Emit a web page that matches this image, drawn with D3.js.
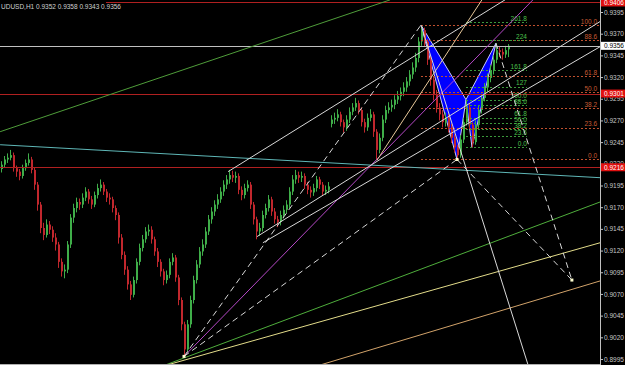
<!DOCTYPE html>
<html>
<head>
<meta charset="utf-8">
<script src="https://cdn.jsdelivr.net/npm/d3@7"></script>
<style>
  html, body { margin: 0; padding: 0; background: #000; }
  svg { display: block; }
  text { font-family: "Liberation Sans", Arial, sans-serif; }
</style>
</head>
<body>
<svg id="chart" width="625" height="365"></svg>
<script>
// AUDUSD H1 - prices are stored in pips (price x 10000)
var symbol = "UDUSD,H1";

var opens = [
  9214,9219,9225,9227,9230,9215,9211,9206,9215,9221,
  9225,9213,9196,9173,9146,9138,9150,9144,9135,9127,
  9107,9096,9098,9127,9158,9169,9176,9173,9181,9188,
  9179,9173,9184,9192,9196,9188,9181,9179,9169,9161,
  9135,9115,9098,9081,9069,9086,9107,9123,9133,9142,
  9144,9133,9119,9107,9096,9086,9092,9107,9112,9089,
  9063,9035,9006,9035,9063,9086,9104,9119,9127,9142,
  9156,9165,9173,9179,9188,9196,9202,9207,9204,9206,
  9190,9184,9192,9196,9173,9156,9142,9146,9161,9169,
  9179,9165,9156,9153,9161,9167,9173,9188,9202,9207,
  9204,9206,9196,9190,9187,9192,9202,9196,9188,9190,
  9266,9271,9273,9277,9268,9262,9271,9280,9285,9290,
  9282,9268,9262,9273,9277,9257,9236,9250,9271,9282,
  9285,9288,9294,9298,9303,9308,9315,9323,9331,9342,
  9361,9374,9361,9340,9317,9300,9285,9277,9268,9273,
  9262,9250,9239,9230,9248,9268,9285,9265,9245,9265,
  9282,9296,9308,9319,9328,9340,9351,9349,9346,9352
];
var highs = [
  9223,9229,9232,9236,9233,9218,9214,9219,9225,9232,
  9228,9216,9199,9176,9152,9156,9154,9148,9140,9130,
  9111,9104,9131,9162,9174,9181,9180,9186,9193,9191,
  9183,9188,9197,9202,9199,9191,9186,9182,9172,9164,
  9139,9119,9102,9085,9090,9111,9128,9138,9147,9150,
  9148,9136,9123,9110,9099,9097,9111,9117,9115,9092,
  9066,9038,9040,9068,9091,9109,9124,9133,9147,9161,
  9170,9178,9185,9193,9201,9207,9213,9212,9211,9209,
  9194,9197,9201,9199,9176,9159,9152,9166,9174,9184,
  9182,9169,9160,9166,9172,9178,9193,9207,9213,9211,
  9211,9209,9199,9194,9197,9206,9205,9199,9195,9199,
  9276,9279,9283,9280,9271,9276,9285,9290,9296,9293,
  9285,9272,9278,9283,9280,9260,9255,9276,9287,9291,
  9294,9299,9304,9308,9314,9320,9328,9337,9348,9366,
  9380,9377,9364,9344,9321,9305,9290,9282,9279,9277,
  9266,9254,9242,9253,9273,9294,9289,9268,9270,9287,
  9301,9313,9324,9334,9345,9359,9355,9353,9356,9358
];
var lows = [
  9210,9216,9221,9224,9211,9205,9201,9203,9212,9218,
  9209,9190,9166,9140,9132,9135,9139,9130,9120,9100,
  9090,9088,9094,9123,9152,9164,9167,9169,9177,9174,
  9168,9170,9180,9188,9184,9176,9173,9164,9155,9128,
  9110,9092,9075,9063,9066,9082,9103,9119,9129,9137,
  9128,9114,9101,9090,9080,9082,9088,9103,9084,9057,
  9028,8998,9002,9031,9059,9082,9100,9114,9123,9138,
  9151,9160,9168,9175,9183,9191,9197,9199,9198,9185,
  9178,9180,9188,9168,9150,9133,9137,9142,9157,9165,
  9160,9151,9147,9149,9157,9163,9169,9184,9197,9198,
  9199,9191,9185,9181,9183,9188,9191,9183,9184,9186,
  9262,9266,9269,9263,9256,9258,9267,9276,9281,9277,
  9263,9256,9258,9269,9251,9225,9232,9246,9267,9278,
  9280,9283,9289,9293,9298,9303,9310,9318,9326,9337,
  9356,9355,9334,9310,9293,9279,9270,9262,9263,9256,
  9244,9233,9225,9227,9244,9264,9260,9239,9242,9261,
  9278,9292,9303,9314,9323,9336,9343,9340,9342,9343
];
var closes = [
  9219,9225,9227,9230,9215,9211,9206,9215,9221,9225,
  9213,9196,9173,9146,9138,9150,9144,9135,9127,9107,
  9096,9098,9127,9158,9169,9176,9173,9181,9188,9179,
  9173,9184,9192,9196,9188,9181,9179,9169,9161,9135,
  9115,9098,9081,9069,9086,9107,9123,9133,9142,9144,
  9133,9119,9107,9096,9086,9092,9107,9112,9089,9063,
  9035,9006,9035,9063,9086,9104,9119,9127,9142,9156,
  9165,9173,9179,9188,9196,9202,9207,9204,9206,9190,
  9184,9192,9196,9173,9156,9142,9146,9161,9169,9179,
  9165,9156,9153,9161,9167,9173,9188,9202,9207,9204,
  9206,9196,9190,9187,9192,9202,9196,9188,9190,9194,
  9271,9273,9277,9268,9262,9271,9280,9285,9290,9282,
  9268,9262,9273,9277,9257,9236,9250,9271,9282,9285,
  9288,9294,9298,9303,9308,9315,9323,9331,9342,9361,
  9374,9361,9340,9317,9300,9285,9277,9268,9273,9262,
  9250,9239,9230,9248,9268,9285,9265,9245,9265,9282,
  9296,9308,9319,9328,9340,9351,9349,9346,9351,9356
];

// price scale ticks
var priceTicks = [8995,9020,9045,9070,9095,9120,9145,9170,9195,9220,9245,9270,9295,9320,9345,9370,9395];

// horizontal lines (red) and current bid
var redLevels = [9406, 9301, 9216];
var bidPrice = 9356;

// harmonic pattern X A B C D (bar index, price)
var patIdx = [140, 152, 155, 157, 165];
var patPx = [9380, 9225, 9294, 9239, 9359];

// fibonacci retracement X->A
var fibLevels = [0, 23.6, 38.2, 50, 61.8, 88.6, 100];
var fibLabels = ["0.0", "23.6", "38.2", "50.0", "61.8", "88.6", "100.0"];
// fibonacci extension C->B
var extLevels = [0, 23.6, 38.2, 50, 61.8, 88.6, 100, 127, 161.8, 224, 261.8];
var extLabels = ["0.0", "23.6", "38.2", "50.0", "61.8", "88.6", "100.0", "127", "161.8", "224", "261.8"];

// trend lines [bar1, price1, bar2, price2]
var greenTop = [-0.3, 9257, 129.7, 9409];
var cyanLine = [-0.3, 9242, 199.7, 9204];
var greenLow = [54.7, 8988, 199.7, 9176];
var yellowLow = [55.3, 8988, 199.7, 9129];
var tanLow = [106.3, 8988, 199.7, 9085];
var purpleLine = [61, 8998, 177.3, 9409];
var wheatLine = [125.3, 9224, 160.3, 9409];
var whiteSolid = [
  [140, 9380, 175.7, 8988],
  [75.7, 9211, 168, 9409],
  [85.3, 9136, 199.7, 9384],
  [87.3, 9129, 199.7, 9355]
];
var whiteDashed = [
  [61, 8998, 140, 9380],
  [61, 8998, 152, 9225],
  [152, 9225, 190.3, 9086],
  [165, 9359, 190.3, 9086]
];
var markers = [[61, 8998], [152, 9225], [190.3, 9086]];

var W = 625, H = 365, plotRight = 600;
var svg = d3.select("#chart");
svg.append("rect").attr("width", W).attr("height", H).attr("fill", "#000");

var x = d3.scaleLinear().domain([0, 199.667]).range([1, 600]);
var y = d3.scaleLinear().domain([8995, 9395]).range([359, 12]);
var fmt = function (p) { return (p / 10000).toFixed(4); };

svg.append("defs").append("clipPath").attr("id", "plot")
  .append("rect").attr("x", 0).attr("y", 0).attr("width", plotRight).attr("height", H);

var g = svg.append("g").attr("clip-path", "url(#plot)");

// blue pattern triangles (drawn behind the bars)
var pts = patIdx.map(function (d, i) { return [x(d), y(patPx[i])]; });
g.selectAll("polygon.pat")
  .data([[pts[0], pts[1], pts[2]], [pts[2], pts[3], pts[4]]])
  .enter().append("polygon")
  .attr("points", function (d) { return d.map(function (p) { return p.join(","); }).join(" "); })
  .attr("fill", "#0000ff")
  .attr("stroke", "#c8c8ff")
  .attr("stroke-width", 1);

// candles
var idx = d3.range(closes.length);
g.selectAll("line.wick").data(idx).enter().append("line")
  .attr("x1", function (i) { return Math.round(x(i)) + 0.5; })
  .attr("x2", function (i) { return Math.round(x(i)) + 0.5; })
  .attr("y1", function (i) { return y(highs[i]); })
  .attr("y2", function (i) { return y(lows[i]); })
  .attr("stroke", function (i) { return closes[i] >= opens[i] ? "#3fae49" : "#c1272d"; })
  .attr("stroke-width", 1);
g.selectAll("rect.body").data(idx).enter().append("rect")
  .attr("x", function (i) { return Math.round(x(i)); })
  .attr("width", 2)
  .attr("y", function (i) { return y(Math.max(opens[i], closes[i])); })
  .attr("height", function (i) { return Math.max(1, Math.abs(y(opens[i]) - y(closes[i]))); })
  .attr("fill", function (i) { return closes[i] >= opens[i] ? "#3fae49" : "#c1272d"; });

// horizontal lines
g.selectAll("line.red").data(redLevels).enter().append("line")
  .attr("x1", 0).attr("x2", plotRight)
  .attr("y1", function (d) { return Math.round(y(d)) + 0.5; })
  .attr("y2", function (d) { return Math.round(y(d)) + 0.5; })
  .attr("stroke", "#b02020").attr("stroke-width", 1);
g.append("line")
  .attr("x1", 0).attr("x2", plotRight)
  .attr("y1", Math.round(y(bidPrice)) + 0.5).attr("y2", Math.round(y(bidPrice)) + 0.5)
  .attr("stroke", "#c0c0c0").attr("stroke-width", 1);

// fibonacci retracement
var fibStart = patIdx[0], fibEnd = 199.7;
var fibY = function (l) { return y(patPx[1] + (patPx[0] - patPx[1]) * l / 100); };
g.selectAll("line.fib").data(fibLevels).enter().append("line")
  .attr("x1", x(fibStart)).attr("x2", x(fibEnd))
  .attr("y1", function (d) { return Math.round(fibY(d)) + 0.5; })
  .attr("y2", function (d) { return Math.round(fibY(d)) + 0.5; })
  .attr("stroke", "#c0502e").attr("stroke-dasharray", "2,2");
g.selectAll("text.fib").data(fibLevels).enter().append("text")
  .attr("x", x(fibEnd) - 3)
  .attr("y", function (d) { return fibY(d) - 1.5; })
  .attr("text-anchor", "end")
  .attr("font-size", 6.5)
  .attr("fill", "#c85a34")
  .text(function (d, i) { return fibLabels[i]; });

// fibonacci extension
var extStart = patIdx[2], extEnd = 175.3;
var extY = function (l) { return y(patPx[3] + (patPx[2] - patPx[3]) * l / 100); };
g.selectAll("line.ext").data(extLevels).enter().append("line")
  .attr("x1", x(extStart)).attr("x2", x(extEnd))
  .attr("y1", function (d) { return Math.round(extY(d)) + 0.5; })
  .attr("y2", function (d) { return Math.round(extY(d)) + 0.5; })
  .attr("stroke", "#3c9a3c").attr("stroke-dasharray", "2,2");
g.selectAll("text.ext").data(extLevels).enter().append("text")
  .attr("x", x(extEnd))
  .attr("y", function (d) { return extY(d) - 1.5; })
  .attr("text-anchor", "end")
  .attr("font-size", 6.5)
  .attr("fill", "#4cc04c")
  .text(function (d, i) { return extLabels[i]; });

// trend lines
function tline(d, color, dash) {
  var l = g.append("line")
    .attr("x1", x(d[0])).attr("y1", y(d[1]))
    .attr("x2", x(d[2])).attr("y2", y(d[3]))
    .attr("stroke", color).attr("stroke-width", 1);
  if (dash) l.attr("stroke-dasharray", dash);
}
tline(greenTop, "#4f9d3a");
tline(cyanLine, "#5fb7b7");
tline(greenLow, "#4fae3c");
tline(yellowLow, "#e3dc8a");
tline(tanLow, "#d2a36a");
tline(purpleLine, "#b548c6");
tline(wheatLine, "#e8c89a");
whiteSolid.forEach(function (d) { tline(d, "#d8d8d8"); });
whiteDashed.forEach(function (d) { tline(d, "#d8d8d8", "6,4"); });

g.selectAll("rect.mk").data(markers).enter().append("rect")
  .attr("x", function (d) { return x(d[0]) - 1.5; })
  .attr("y", function (d) { return y(d[1]) - 1.5; })
  .attr("width", 3).attr("height", 3)
  .attr("fill", "#ffffd0");

// bottom border
svg.append("line").attr("x1", 0).attr("x2", plotRight).attr("y1", 364.5).attr("y2", 364.5)
  .attr("stroke", "#b0b0b0");

// price axis
var axis = svg.append("g")
  .attr("transform", "translate(" + plotRight + ",0)")
  .call(d3.axisRight(y).tickValues(priceTicks).tickFormat(fmt).tickSize(3).tickSizeOuter(0));
axis.select(".domain").attr("stroke", "#c0c0c0").attr("d", "M0.5,0V" + H);
axis.selectAll(".tick line").attr("stroke", "#c0c0c0");
axis.selectAll(".tick text").attr("fill", "#c8c8c8").attr("font-size", 6.5)
  .attr("x", 4).attr("font-family", "Liberation Sans, Arial, sans-serif");

// price boxes
function priceBox(p, bg, fg) {
  var b = svg.append("g").attr("transform", "translate(" + plotRight + "," + y(p) + ")");
  b.append("rect").attr("x", 1).attr("y", -4).attr("width", 24).attr("height", 8).attr("fill", bg);
  b.append("text").attr("x", 4).attr("y", 2.3).attr("font-size", 6.5).attr("fill", fg).text(fmt(p));
}
redLevels.forEach(function (p) { priceBox(p, "#e01010", "#ffffff"); });
priceBox(bidPrice, "#ffffff", "#000000");

// header
var last = closes.length - 1;
var hdr = svg.append("g");
hdr.append("rect").attr("x", 0).attr("y", 0).attr("width", 106).attr("height", 11).attr("fill", "#000");
hdr.append("text").attr("x", 1).attr("y", 8.5).attr("font-size", 6.5).attr("fill", "#d0d0d0")
  .text(symbol + "  " + [opens[last], highs[last], lows[last], closes[last]].map(fmt).join(" "));
</script>
</body>
</html>
